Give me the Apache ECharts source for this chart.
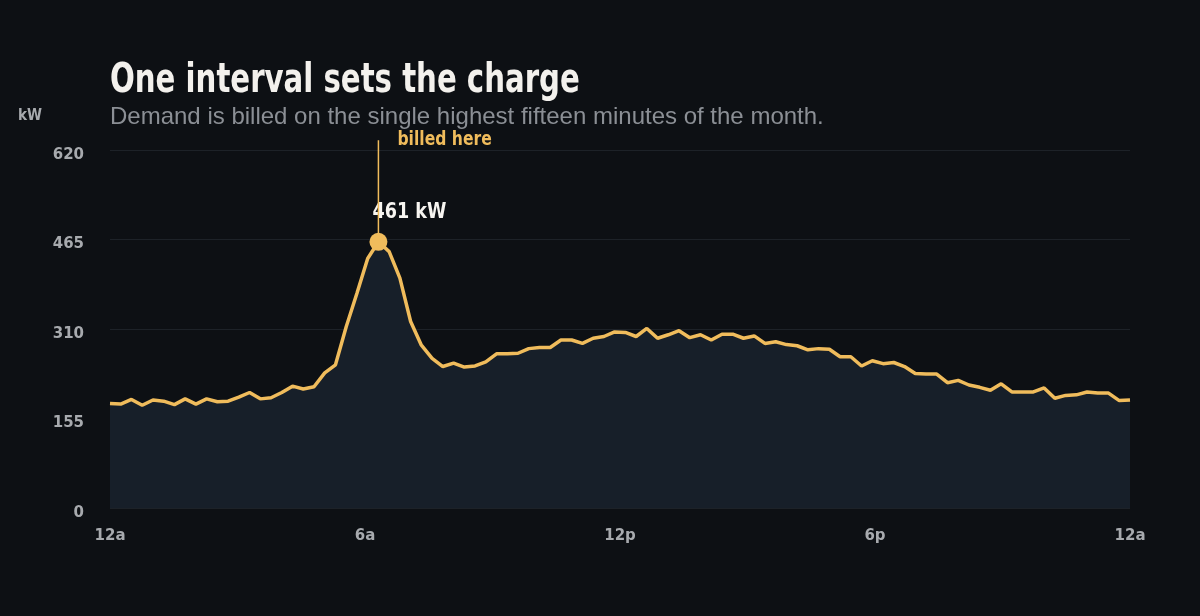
<!DOCTYPE html>
<html>
<head>
<meta charset="utf-8">
<script src="https://cdn.jsdelivr.net/npm/echarts@6/dist/echarts.min.js"></script>
<style>
  html, body { margin: 0; padding: 0; background: #0d1014; }
  #chart { width: 1200px; height: 616px; }
</style>
</head>
<body>
<div id="chart"></div>
<script>
// 15-minute demand readings over one day (kW), 96 intervals
const demandKw = [
  181, 180, 188, 178, 187, 185, 179, 189, 180, 189, 184, 185, 192, 200, 189, 191,
  200, 211, 206, 210, 234, 248, 314, 372, 432, 461, 444, 398, 323, 282, 259, 245,
  251, 244, 246, 253, 267, 267, 268, 276, 278, 278, 291, 291, 285, 294, 297, 305,
  304, 297, 311, 294, 300, 307, 295, 300, 291, 301, 301, 294, 298, 285, 288, 283,
  281, 274, 276, 275, 262, 262, 246, 255, 250, 252, 245, 233, 232, 232, 217, 221,
  213, 209, 204, 215, 201, 201, 201, 208, 190, 195, 196, 201, 199, 199, 186, 187
];
const hourLabels = ['12a', '6a', '12p', '6p', '12a'];
const yTicks = [0, 155, 310, 465, 620];
const peakIndex = 25;
const peakValue = 461;
const leaderTop = 637; // where the "billed here" leader line stops, in kW

const FONT = '"DejaVu Sans", sans-serif';
const GOLD = '#f0bc5c';
const MUTED = '#a7aaae';

const points = demandKw.map((v, i) => [i, v]);
const lastIndex = demandKw.length - 1;

const chart = echarts.init(document.getElementById('chart'));

chart.setOption({
  backgroundColor: '#0d1014',
  animation: false,
  title: {
    text: 'Demand is billed on the single highest fifteen minutes of the month.',
    left: 105,
    top: 100,
    textStyle: { color: '#8b8f95', fontSize: 24, fontWeight: 'normal', fontFamily: '"Liberation Sans", Arial, sans-serif' }
  },
  grid: { left: 110, right: 70, top: 150, bottom: 108 },
  xAxis: {
    type: 'value',
    min: 0,
    max: lastIndex,
    interval: lastIndex / 4,
    axisLine: { show: false },
    axisTick: { show: false },
    splitLine: { show: false },
    axisLabel: {
      color: MUTED,
      fontSize: 15,
      fontWeight: 'bold',
      fontFamily: FONT,
      margin: 21,
      formatter: (v) => hourLabels[Math.round(v / (lastIndex / 4))]
    }
  },
  yAxis: {
    type: 'value',
    min: yTicks[0],
    max: yTicks[yTicks.length - 1],
    interval: yTicks[1] - yTicks[0],
    axisLine: { show: false },
    axisTick: { show: false },
    splitLine: { lineStyle: { color: '#1d2228', width: 1 } },
    axisLabel: {
      color: MUTED,
      fontSize: 15,
      fontWeight: 'bold',
      fontFamily: FONT,
      margin: 26,
      verticalAlign: 'top',
      lineHeight: 10
    }
  },
  series: [
    {
      type: 'line',
      data: points,
      showSymbol: false,
      lineStyle: { color: GOLD, width: 3.5 },
      itemStyle: { color: GOLD },
      areaStyle: { color: '#171f29', opacity: 1 },
      z: 3,
      markPoint: {
        silent: true,
        z: 5,
        data: [
          {
            coord: [peakIndex, peakValue],
            symbol: 'circle',
            symbolSize: 18,
            itemStyle: { color: GOLD },
            label: { show: false }
          }
        ]
      }
    }
  ]
});

// leader line and annotations placed through the chart's own scales
const peakPx = chart.convertToPixel({ gridIndex: 0 }, [peakIndex, peakValue]);
const basePx = chart.convertToPixel({ gridIndex: 0 }, [peakIndex, 0]);
const topPx = chart.convertToPixel({ gridIndex: 0 }, [peakIndex, leaderTop]);

chart.setOption({
  graphic: [
    {
      type: 'text',
      x: 110,
      y: 62,
      scaleX: 0.73,
      style: { text: 'One interval sets the charge', fill: '#f3f1ed', font: 'bold 40px ' + FONT }
    },
    {
      type: 'text',
      x: 18,
      y: 108,
      scaleX: 0.85,
      style: { text: 'kW', fill: MUTED, font: 'bold 16px ' + FONT }
    },
    {
      type: 'line',
      z: 2,
      shape: { x1: basePx[0], y1: basePx[1], x2: topPx[0], y2: topPx[1] },
      style: { stroke: GOLD, lineWidth: 1.5 }
    },
    {
      type: 'text',
      x: topPx[0] + 19,
      y: topPx[1] - 10,
      scaleX: 0.78,
      style: { text: 'billed here', fill: GOLD, font: 'bold 20px ' + FONT }
    },
    {
      type: 'text',
      x: peakPx[0] - 6,
      y: peakPx[1] - 41,
      scaleX: 0.8,
      style: { text: peakValue + ' kW', fill: '#f7f5f1', font: 'bold 22px ' + FONT }
    }
  ]
});
</script>
</body>
</html>
